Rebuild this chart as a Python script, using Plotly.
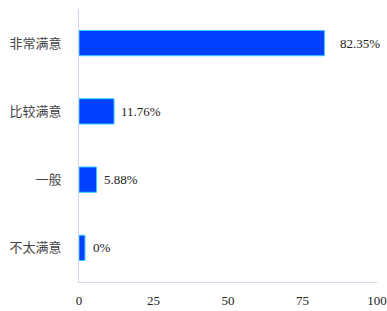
import plotly.graph_objects as go

categories = ["非常满意", "比较满意", "一般", "不太满意"]
values = [82.35, 11.76, 5.88, 0]
labels = ["82.35%", "11.76%", "5.88%", "0%"]
x_ticks = [0, 25, 50, 75, 100]

# minimum visible bar length (the reference draws a stub for 0%)
MIN_BAR = 2
display_vals = [max(v, MIN_BAR) for v in values]
label_shift = [14, 5, 5, 6]

fig = go.Figure()
fig.add_trace(go.Bar(
    x=display_vals,
    y=categories,
    orientation="h",
    marker=dict(color="#0040ff", line=dict(color="#33ccff", width=1)),
    hoverinfo="skip",
))

for cat, v, lab, sh in zip(categories, display_vals, labels, label_shift):
    fig.add_annotation(
        x=v, y=cat, text=lab, showarrow=False, xanchor="left", yanchor="middle",
        xshift=sh, font=dict(family="Liberation Serif", size=13, color="#222"),
    )

fig.update_layout(
    width=387, height=311,
    margin=dict(l=79, r=10, t=9, b=29),
    paper_bgcolor="white", plot_bgcolor="white",
    bargap=0.63,
    showlegend=False,
    xaxis=dict(
        range=[0, 100], tickvals=x_ticks, showgrid=False, zeroline=False,
        showline=True, linecolor="#d4d4ec", linewidth=1,
        tickfont=dict(family="Liberation Serif", size=13, color="#222"),
        ticks="", ticklabelstandoff=6, fixedrange=True, automargin=False,
        ticklabeloverflow="allow",
    ),
    yaxis=dict(
        autorange="reversed", showgrid=False, zeroline=False,
        showline=True, linecolor="#d4d4ec", linewidth=1,
        tickfont=dict(family="Noto Sans CJK SC", size=13, color="#444"),
        ticks="", ticklabelstandoff=14, fixedrange=True, automargin=False,
    ),
)

fig.write_html(
    "out.html",
    config={"displayModeBar": False},
    post_script="document.body.style.margin='0';document.body.style.overflow='hidden';",
)
